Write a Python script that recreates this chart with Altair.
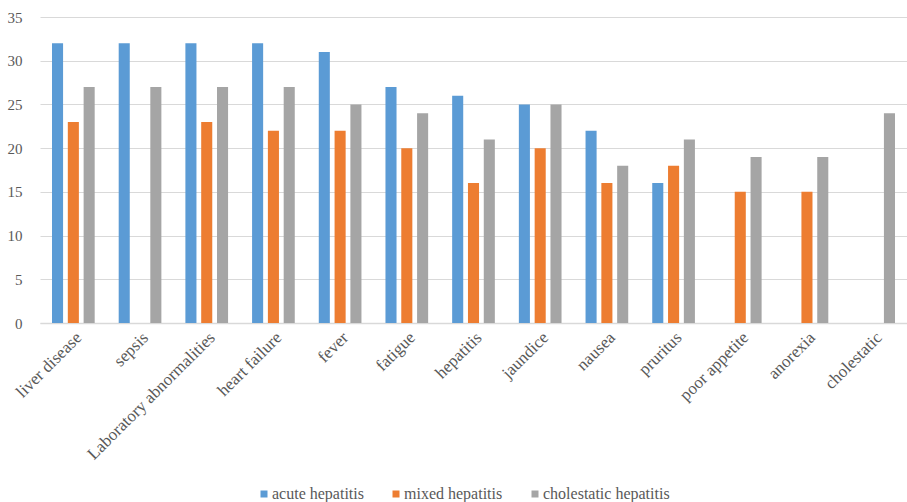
import altair as alt
import pandas as pd

# Symptom / condition categories on the x axis
categories = [
    "liver disease", "sepsis", "Laboratory abnormalities", "heart failure",
    "fever", "fatigue", "hepatitis", "jaundice", "nausea", "pruritus",
    "poor appetite", "anorexia", "cholestatic",
]

# Counts per hepatitis type (None = no bar)
acute = [32, 32, 32, 32, 31, 27, 26, 25, 22, 16, None, None, None]
mixed = [23, None, 23, 22, 22, 20, 16, 20, 16, 18, 15, 15, None]
cholestatic = [27, 27, 27, 27, 25, 24, 21, 25, 18, 21, 19, 19, 24]

series = ["acute hepatitis", "mixed hepatitis", "cholestatic hepatitis"]
colors = ["#5b9bd5", "#ed7d31", "#a5a5a5"]
y_ticks = [0, 5, 10, 15, 20, 25, 30, 35]

rows = []
for name, vals in zip(series, [acute, mixed, cholestatic]):
    for cat, v in zip(categories, vals):
        if v is not None:
            rows.append({"category": cat, "series": name, "value": v})
df = pd.DataFrame(rows)

font = "'Liberation Serif', 'Times New Roman', serif"
text_color = "#595959"

chart = (
    alt.Chart(df)
    .mark_bar()
    .encode(
        x=alt.X(
            "category:N",
            sort=categories,
            scale=alt.Scale(domain=categories, paddingInner=0.36, paddingOuter=0.18),
            axis=alt.Axis(
                title=None,
                labelAngle=-45,
                labelFont=font,
                labelFontSize=17,
                labelColor=text_color,
                labelPadding=6,
                ticks=False,
                domainColor="#d9d9d9",
                domainWidth=1.5,
            ),
        ),
        xOffset=alt.XOffset(
            "series:N",
            sort=series,
            scale=alt.Scale(domain=series, paddingInner=0.3, paddingOuter=0),
        ),
        y=alt.Y(
            "value:Q",
            scale=alt.Scale(domain=[0, 35], nice=False),
            axis=alt.Axis(
                title=None,
                values=y_ticks,
                labelFont=font,
                labelFontSize=15,
                labelColor=text_color,
                labelPadding=18,
                ticks=False,
                domain=False,
                gridColor="#d9d9d9",
                gridWidth=1.2,
            ),
        ),
        color=alt.Color(
            "series:N",
            sort=series,
            scale=alt.Scale(domain=series, range=colors),
            legend=alt.Legend(
                title=None,
                orient="none",
                direction="horizontal",
                legendX=216,
                legendY=469,
                symbolType="square",
                symbolSize=49,
                symbolStrokeWidth=0,
                labelFont=font,
                labelFontSize=16,
                labelColor=text_color,
                columnPadding=24,
                labelOffset=0,
            ),
        ),
    )
    .properties(
        width=867,
        height=306,
        autosize=alt.AutoSizeParams(type="none"),
        padding={"left": 40, "top": 17, "right": 0, "bottom": 179},
    )
    .configure(background="white", font=font)
    .configure_legend(labelFont=font)
    .configure_axis(labelFont=font)
    .configure_view(stroke=None)
)

chart.save("out.html", embed_options={"renderer": "svg", "actions": False})
